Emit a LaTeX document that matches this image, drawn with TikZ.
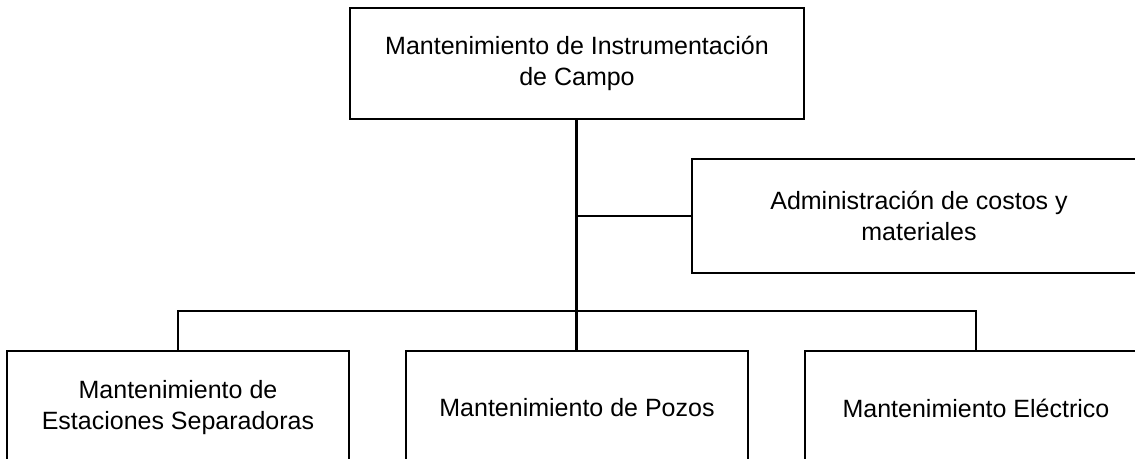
\documentclass[tikz,border=0pt]{standalone}
\usepackage{fontspec}
\setmainfont{Liberation Sans}
\usetikzlibrary{positioning}
\tikzset{
  unit/.style = {rectangle, draw=black, line width=1pt, minimum width=227pt, minimum height=55.5pt, align=center, inner sep=4pt},
  subunit/.style = {rectangle, draw=black, line width=1pt, minimum width=171pt, minimum height=57pt, align=center, inner sep=4pt},
  trunk/.style = {line width=1.5pt},
  branch/.style = {line width=1pt}
}

\begin{document}
\begin{tikzpicture}[node distance=115pt and 27.5pt, every node/.style={font=\fontsize{12.5}{15.5}\selectfont}]

  % Page frame (the chart runs off the right and bottom edges)
  \useasboundingbox (-288.5pt,31.75pt) rectangle (279pt,-197.75pt);
  \clip (-288.5pt,31.75pt) rectangle (279pt,-197.75pt);

  % Head
  \node (campo) [unit] {Mantenimiento de Instrumentación\\de Campo};

  % Staff box
  \node (admin) [unit, minimum height=57pt, anchor=west] at ([xshift=57pt, yshift=-48pt]campo.south) {Administración de costos y\\materiales};

  % Areas
  \node (pozos) [subunit, below=of campo] {Mantenimiento de Pozos};
  \node (separadoras) [subunit, left=of pozos] {Mantenimiento de\\Estaciones Separadoras};
  \node (electrico) [subunit, right=of pozos] {Mantenimiento Eléctrico};

  % Lines
  \coordinate (bus) at ([yshift=-95.5pt]campo.south);
  \draw[trunk] (campo.south) -- (pozos.north);
  \draw[branch] (campo.south |- admin.west) -- (admin.west);
  \draw[branch] (separadoras.north) |- (bus) -| (electrico.north);

\end{tikzpicture}
\end{document}
